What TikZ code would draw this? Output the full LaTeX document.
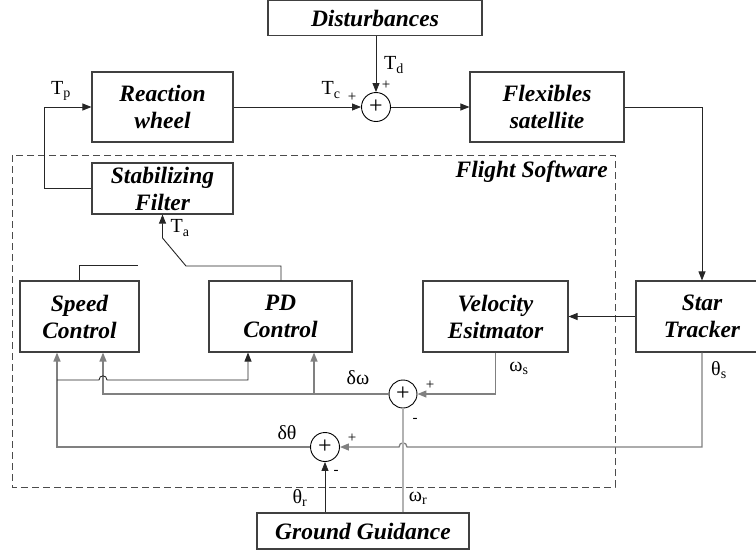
\documentclass[tikz,border=0pt]{standalone}
\usepackage{fontspec}
\setmainfont{Liberation Serif}
\usetikzlibrary{arrows.meta}
\begin{document}
\begin{tikzpicture}[x=1pt,y=-1pt,
  blk/.style={draw=black!75,line width=1.1pt,fill=white,inner sep=0pt,align=center,
    font=\fontsize{23.5}{27}\selectfont\bfseries\itshape},
  sumc/.style={draw=black,line width=0.9pt,circle,minimum size=29pt,inner sep=0pt,
    font=\fontsize{24}{24}\selectfont},
  lbl/.style={font=\fontsize{20}{20}\selectfont,inner sep=0pt},
  sgn/.style={font=\fontsize{15}{15}\selectfont,inner sep=0pt},
  con/.style={draw=black!85,line width=0.9pt},
  gcon/.style={draw=black!50,line width=1.3pt},
  lcon/.style={draw=black!30,line width=1.1pt},
  arr/.style={-{Triangle[length=9pt,width=7pt]}}
]
\useasboundingbox (0,0) rectangle (756,552);
% flight software frame
\draw[draw=black!70,line width=0.9pt,dash pattern=on 7pt off 4pt] (12,155) rectangle (615,487);
\node[anchor=east,font=\fontsize{23.5}{23.5}\selectfont\bfseries\itshape,inner sep=0pt] (fs) at (608,172) {Flight Software};
% boxes
\node[blk,minimum width=214pt,minimum height=35pt] (dist) at (375,18) {Disturbances};
\node[blk,minimum width=141pt,minimum height=70pt] (rw) at (162.5,107) {Reaction\\wheel};
\node[blk,minimum width=154pt,minimum height=70pt] (flex) at (547,107) {Flexibles\\satellite};
\node[blk,minimum width=141pt,minimum height=51pt] (stab) at (162.5,188.5) {Stabilizing\\Filter};
\node[blk,minimum width=119pt,minimum height=71pt] (speed) at (79.5,316.5) {Speed\\Control};
\node[blk,minimum width=143pt,minimum height=71pt] (pd) at (280.5,316.5) {PD\\Control};
\node[blk,minimum width=145pt,minimum height=71pt] (vel) at (495.5,316.5) {Velocity\\Esitmator};
\node[blk,minimum width=132pt,minimum height=71pt] (star) at (702,316.5) {Star\\Tracker};
\node[blk,minimum width=212pt,minimum height=36pt] (gg) at (363,531) {Ground Guidance};
% summing junctions
\node[sumc] (s1) at (376,107) {+};
\node[sumc,minimum size=28pt] (s2) at (403,394) {+};
\node[sumc] (s3) at (325,447) {+};
% coordinates
\coordinate (tpc) at (44,107);
\coordinate (tpb) at (44,188.5);
\coordinate (ta1) at (281,266);
\coordinate (ta2) at (186,266);
\coordinate (ta3) at (162.5,238);
\coordinate (sp1) at (79.5,265);
\coordinate (sp2) at (138,265);
\coordinate (fl1) at (702,107);
\coordinate (ve1) at (495.5,394);
\coordinate (dw1) at (103,394);
\coordinate (dw2) at (314,394);
\coordinate (dt1) at (57,447);
\coordinate (dt2) at (57,380);
\coordinate (dt3) at (248,380);
\coordinate (st1) at (702,447);
% upper loop
\draw[con,arr] (dist.south -| s1) -- (s1.north);
\draw[con,arr] (rw.east) -- (s1.west);
\draw[con,arr] (s1.east) -- (flex.west);
\draw[con,arr] (flex.east) -- (fl1) -- (star.north);
\draw[con,arr] (stab.west) -- (tpb) -- (tpc) -- (rw.west);
\draw[con,arr] (pd.north -| ta1) -- (ta1) -- (ta2) -- (ta3) -- (stab.south);
\draw[con] (speed.north) -- (sp1) -- (sp2);
\draw[con,arr] (star.west) -- (vel.east);
% inner loops
\draw[gcon,arr] (vel.south) -- (ve1) -- (s2.east);
\draw[gcon,arr] (s2.west) -- (dw1) -- (speed.south -| dw1);
\draw[gcon,arr] (dw2) -- (pd.south -| dw2);
\draw[gcon,arr] (s3.west) -- (dt1) -- (speed.south -| dt1);
\draw[con,arr] (dt2) -- (99,380) .. controls (99,374.5) and (107,374.5) .. (107,380) -- (dt3) -- (pd.south -| dt3);
\draw[gcon,arr] (star.south) -- (st1) -- (407,447) .. controls (407,441.5) and (399,441.5) .. (399,447) -- (s3.east);
\draw[con,arr] (gg.north -| s3) -- (s3.south);
\draw[lcon] (gg.north -| s2) -- (s2.south);
% labels
\node[lbl] (ltp) at (61,91) {T\textsubscript{p}};
\node[lbl] (ltc) at (331,90) {T\textsubscript{c}};
\node[sgn] (ptc) at (352,97) {+};
\node[lbl] (ltd) at (394,65) {T\textsubscript{d}};
\node[sgn] (ptd) at (386,85) {+};
\node[lbl] (lta) at (180,228) {T\textsubscript{a}};
\node[lbl] (lws) at (519,368) {ω\textsubscript{s}};
\node[lbl] (lts) at (719,370) {θ\textsubscript{s}};
\node[lbl] (ldw) at (358,378) {δω};
\node[lbl] (ldt) at (287,433) {δθ};
\node[lbl] (ltr) at (300,498) {θ\textsubscript{r}};
\node[lbl] (lwr) at (418,498) {ω\textsubscript{r}};
\node[sgn] (p2) at (430,385) {+};
\node[sgn] (m2) at (415,420) {-};
\node[sgn] (p3) at (352,438) {+};
\node[sgn] (m3) at (336,472) {-};
\end{tikzpicture}
\end{document}
